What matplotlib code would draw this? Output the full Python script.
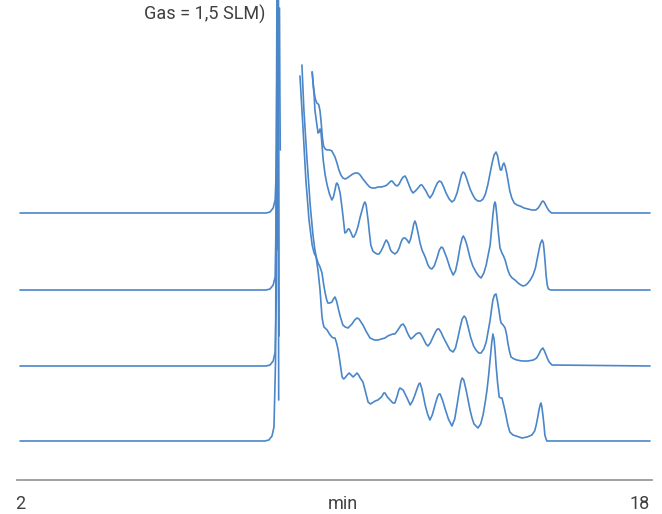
import matplotlib
matplotlib.use("Agg")
import matplotlib.pyplot as plt
import numpy as np

nan = np.nan

# retention time (min) and detector response for each injection, lowest trace first
t4_time = [2.00, 8.22, 8.32, 8.40, 8.45, 8.49, 8.53, 8.55, 8.57, nan,
           9.11, 9.19, 9.26, 9.34, 9.42, 9.47, 9.52, 9.57, 9.62, 9.65, 9.67, 9.70, 9.72, 9.80,
           9.86, 9.92, 9.96, 10.00, 10.04, 10.08, 10.13, 10.18, 10.22, 10.25, 10.31, 10.36,
           10.41, 10.46, 10.51, 10.56, 10.60, 10.64, 10.71, 10.77, 10.84, 10.90, 10.94, 11.02,
           11.09, 11.18, 11.24, 11.27, 11.33, 11.40, 11.47, 11.52, 11.58, 11.62, 11.65, 11.69,
           11.73, 11.78, 11.83, 11.91, 11.97, 12.03, 12.09, 12.13, 12.16, 12.20, 12.25, 12.29,
           12.35, 12.41, 12.47, 12.54, 12.60, 12.64, 12.67, 12.73, 12.79, 12.88, 12.97, 13.04,
           13.10, 13.16, 13.20, 13.23, 13.27, 13.33, 13.38, 13.43, 13.48, 13.53, 13.63, 13.70,
           13.76, 13.82, 13.86, 13.90, 13.94, 13.98, 14.01, 14.04, 14.07, 14.09, 14.13, 14.17,
           14.21, 14.24, 14.29, 14.34, 14.39, 14.44, 14.52, 14.60, 14.75, 14.88, 15.00, 15.07,
           15.11, 15.15, 15.18, 15.21, 15.23, 15.25, 15.28, 15.31, 15.33, 15.36, 15.38, 18.00]
t4_resp = [0, 0, 1, 5, 14, 80, 500, 500, 41, nan,
           365, 311, 261, 221, 196, 188, 184, 170, 151, 135, 124, 117, 114, 111,
           107, 104, 103, 103, 98, 91, 78, 64, 62, 63, 66, 68,
           66, 64, 66, 68, 66, 63, 59, 50, 39, 37, 38, 40,
           41, 44, 48, 48, 44, 41, 38, 38, 45, 51, 53, 52,
           51, 47, 43, 36, 40, 46, 53, 57, 58, 53, 44, 36,
           27, 21, 26, 36, 44, 47, 47, 41, 33, 22, 15, 22,
           36, 51, 60, 63, 61, 51, 41, 31, 23, 17, 13, 17,
           26, 40, 51, 65, 81, 98, 107, 102, 88, 76, 58, 44,
           43, 43, 35, 26, 16, 9, 6, 5, 3, 4, 6, 10,
           16, 24, 31, 36, 38, 35, 26, 15, 6, 2, 0, 0]

t3_time = [2.00, 8.25, 8.35, 8.43, 8.48, 8.51, 8.53, 8.56, 8.58, nan,
           9.16, 9.21, 9.29, 9.37, 9.44, 9.49, 9.53, 9.57, 9.62, 9.67, 9.71, 9.75, 9.79, 9.82,
           9.87, 9.92, 9.96, 10.00, 10.04, 10.08, 10.13, 10.20, 10.26, 10.33, 10.38, 10.43,
           10.50, 10.56, 10.61, 10.66, 10.71, 10.80, 10.89, 11.00, 11.09, 11.18, 11.27, 11.34,
           11.40, 11.47, 11.52, 11.58, 11.63, 11.68, 11.73, 11.78, 11.83, 11.88, 11.93, 11.99,
           12.06, 12.11, 12.16, 12.21, 12.26, 12.31, 12.36, 12.42, 12.49, 12.55, 12.60, 12.64,
           12.69, 12.76, 12.84, 12.92, 13.00, 13.06, 13.12, 13.18, 13.23, 13.28, 13.32, 13.35,
           13.40, 13.45, 13.52, 13.58, 13.65, 13.71, 13.78, 13.84, 13.90, 13.94, 13.98, 14.01,
           14.05, 14.09, 14.13, 14.17, 14.20, 14.22, 14.27, 14.32, 14.36, 14.39, 14.43, 14.47,
           14.55, 14.62, 14.75, 14.90, 15.04, 15.12, 15.18, 15.23, 15.28, 15.32, 15.36, 15.40,
           15.44, 15.51, 18.00]
t3_resp = [0, 0, 1, 5, 14, 70, 200, 450, 30, nan,
           301, 256, 206, 161, 131, 116, 108, 103, 99, 93, 82, 73, 66, 63,
           63, 64, 67, 69, 65, 58, 50, 41, 39, 38, 40, 42,
           46, 48, 47, 44, 41, 34, 28, 26, 26, 27, 28, 30,
           31, 32, 32, 35, 38, 41, 42, 39, 34, 30, 27, 29,
           32, 33, 33, 30, 26, 22, 20, 23, 29, 34, 37, 37,
           34, 28, 22, 16, 14, 18, 28, 39, 47, 50, 48, 44,
           36, 28, 20, 16, 13, 13, 17, 24, 37, 46, 58, 66,
           71, 72, 64, 54, 46, 43, 41, 38, 31, 23, 15, 9,
           7, 6, 5, 5, 6, 8, 12, 16, 18, 15, 11, 7,
           4, 1, 0]

t2_time = [2.00, 8.25, 8.35, 8.43, 8.48, 8.50, 8.53, 8.54, 8.55, nan,
           9.42, 9.45, 9.47, 9.49, 9.53, 9.57, 9.60, 9.62, 9.64, 9.67, 9.70, 9.75, 9.80, 9.86,
           9.92, 9.96, 10.00, 10.03, 10.05, 10.08, 10.13, 10.17, 10.20, 10.23, 10.25, 10.29,
           10.33, 10.36, 10.41, 10.45, 10.48, 10.53, 10.58, 10.64, 10.69, 10.73, 10.76, 10.79,
           10.84, 10.88, 10.91, 10.96, 11.02, 11.07, 11.12, 11.17, 11.22, 11.26, 11.30, 11.34,
           11.37, 11.41, 11.45, 11.52, 11.58, 11.63, 11.67, 11.70, 11.74, 11.78, 11.83, 11.88,
           11.92, 11.96, 12.00, 12.03, 12.06, 12.11, 12.16, 12.21, 12.29, 12.36, 12.41, 12.46,
           12.52, 12.59, 12.65, 12.70, 12.74, 12.79, 12.84, 12.92, 13.00, 13.06, 13.12, 13.18,
           13.23, 13.26, 13.30, 13.35, 13.43, 13.50, 13.58, 13.65, 13.71, 13.78, 13.84, 13.90,
           13.94, 13.98, 14.01, 14.04, 14.06, 14.08, 14.11, 14.15, 14.19, 14.24, 14.28, 14.32,
           14.39, 14.44, 14.50, 14.57, 14.65, 14.72, 14.78, 14.85, 14.90, 14.96, 15.03, 15.09,
           15.13, 15.18, 15.22, 15.26, 15.29, 15.31, 15.34, 15.36, 15.39, 15.42, 15.48, 18.00]
t2_resp = [0, 0, 1, 5, 13, 60, 255, 150, 40, nan,
           218, 203, 195, 180, 168, 157, 158, 161, 160, 145, 130, 115, 105, 96,
           90, 93, 100, 106, 107, 105, 97, 85, 75, 64, 57, 58,
           61, 61, 57, 53, 53, 57, 63, 73, 80, 86, 88, 85,
           70, 55, 45, 39, 37, 36, 36, 39, 43, 47, 50, 48,
           45, 40, 38, 36, 38, 42, 47, 50, 52, 52, 50, 47,
           51, 58, 66, 69, 66, 57, 47, 40, 33, 25, 22, 21,
           24, 32, 40, 43, 42, 37, 32, 22, 15, 19, 30, 44,
           52, 54, 51, 45, 32, 24, 18, 14, 12, 17, 25, 37,
           45, 62, 75, 85, 88, 86, 75, 57, 42, 37, 34, 30,
           20, 15, 12, 10, 7, 5, 4, 5, 7, 10, 15, 22,
           30, 40, 47, 50, 47, 40, 26, 15, 5, 1, 0, 0]

t1_time = [2.00, 8.25, 8.35, 8.43, 8.48, 8.51, 8.55, 8.59, 8.60, 8.61, nan,
           9.42, 9.45, 9.47, 9.50, 9.54, 9.57, 9.59, 9.62, 9.65, 9.68, 9.71, 9.75, 9.80, 9.87,
           9.92, 9.96, 10.00, 10.05, 10.10, 10.15, 10.20, 10.26, 10.31, 10.38, 10.45, 10.52,
           10.58, 10.64, 10.69, 10.75, 10.81, 10.88, 10.94, 11.02, 11.09, 11.18, 11.27, 11.32,
           11.37, 11.42, 11.45, 11.49, 11.53, 11.58, 11.63, 11.68, 11.73, 11.78, 11.82, 11.88,
           11.93, 11.98, 12.04, 12.11, 12.17, 12.21, 12.26, 12.31, 12.36, 12.41, 12.48, 12.54,
           12.60, 12.65, 12.70, 12.76, 12.82, 12.90, 12.97, 13.03, 13.10, 13.16, 13.21, 13.25,
           13.29, 13.33, 13.38, 13.43, 13.50, 13.56, 13.63, 13.70, 13.76, 13.82, 13.88, 13.94,
           13.99, 14.04, 14.09, 14.13, 14.17, 14.20, 14.23, 14.26, 14.29, 14.32, 14.36, 14.40,
           14.44, 14.49, 14.55, 14.62, 14.70, 14.80, 14.90, 15.00, 15.10, 15.16, 15.21, 15.25,
           15.28, 15.31, 15.35, 15.39, 15.44, 15.50, 18.00]
t1_resp = [0, 0, 1, 5, 13, 45, 120, 205, 120, 63, nan,
           141, 128, 121, 114, 110, 109, 108, 102, 90, 75, 67, 64, 63, 63,
           62, 59, 56, 50, 43, 38, 35, 34, 35, 37, 39, 40,
           40, 38, 35, 32, 29, 26, 25, 25, 26, 26, 27, 28,
           30, 32, 32, 30, 28, 27, 29, 33, 36, 37, 34, 28,
           23, 20, 22, 25, 28, 28, 25, 22, 18, 15, 19, 25,
           30, 32, 31, 26, 20, 14, 11, 13, 20, 30, 38, 41,
           40, 36, 30, 24, 18, 14, 12, 12, 14, 19, 28, 40,
           50, 58, 61, 57, 48, 43, 43, 48, 50, 47, 40, 31,
           22, 15, 10, 8, 7, 5, 4, 3, 3, 5, 8, 11,
           12, 11, 8, 5, 2, 0, 0]

traces = [(t4_time, t4_resp), (t3_time, t3_resp), (t2_time, t2_resp), (t1_time, t1_resp)]
offsets = [39, 114, 190, 267]

blue = '#4a86c8'
grey_text = '#404040'
font = ['Liberation Sans Narrow', 'Roboto', 'DejaVu Sans']

fig = plt.figure(figsize=(6.62, 5.14), dpi=100)
ax = fig.add_axes([17 / 662, 34 / 514, 635 / 662, 480 / 514])

for (t, r), off in zip(traces, offsets):
    ax.plot(t, np.array(r, dtype=float) + off, color=blue, lw=1.2,
            solid_joinstyle='round', solid_capstyle='round')

ax.set_xlim(2 - 3 / 39.375, 18 + 2 / 39.375)
ax.set_ylim(0, 480)

for side in ['top', 'right', 'left']:
    ax.spines[side].set_visible(False)
ax.spines['bottom'].set_color('#9a9a9a')
ax.spines['bottom'].set_linewidth(1.3)
ax.set_yticks([])
ax.set_xticks([2, 18])
ax.set_xticklabels(['2', '18'], family=font, fontsize=13, color=grey_text)
ax.get_xticklabels()[1].set_ha('right')
ax.tick_params(axis='x', length=0, pad=11)

xmin, xmax = ax.get_xlim()
ax.set_xlabel('min', family=font, fontsize=13, color=grey_text)
ax.xaxis.set_label_coords((10.2 - xmin) / (xmax - xmin), -24 / 480)
ax.xaxis.label.set_va('center')

fig.text(205 / 662, 1 - 14 / 514, 'Gas = 1,5 SLM)', family=font, fontsize=13,
         color=grey_text, ha='center', va='center')

fig.savefig('out.png', dpi=100)
